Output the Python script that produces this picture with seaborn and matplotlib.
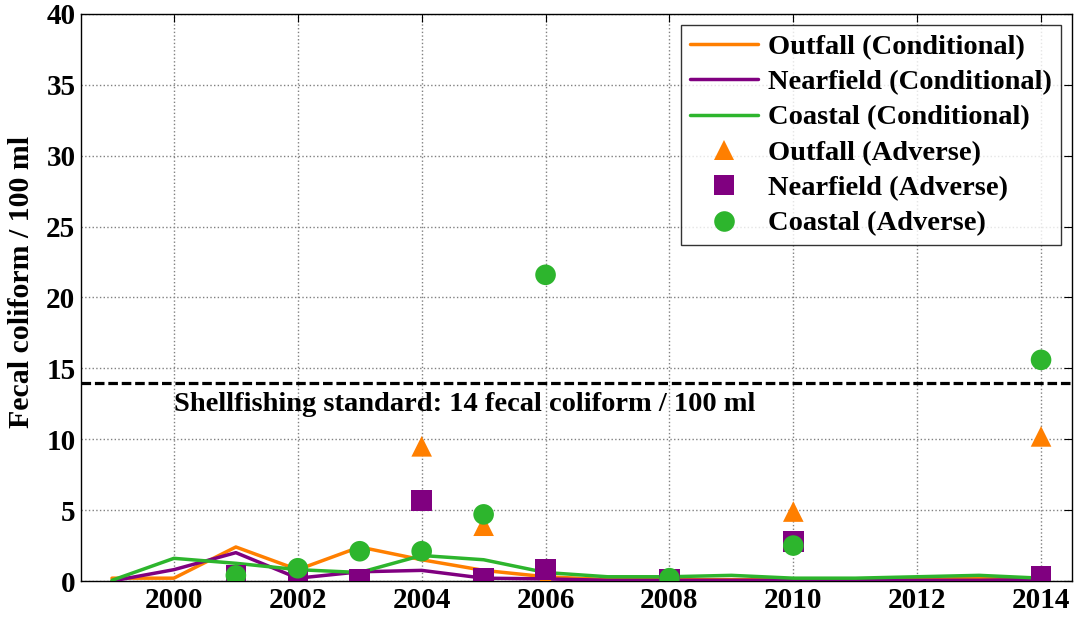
import matplotlib
matplotlib.use("Agg")
from matplotlib import pyplot as plt
import pandas as pd
import numpy as np
import seaborn as sb

# conditional (annual) values
years = [1999, 2000, 2001, 2002, 2003, 2004, 2005, 2006, 2007, 2008, 2009, 2010, 2011, 2012, 2013, 2014]
outfall_cond = [0.2, 0.2, 2.4, 0.8, 2.4, 1.5, 0.75, 0.3, 0.1, 0.1, 0.1, 0.1, 0.1, 0.1, 0.2, 0.2]
nearfield_cond = [0.0, 0.8, 2.0, 0.2, 0.65, 0.75, 0.2, 0.15, 0.05, 0.05, 0.05, 0.05, 0.05, 0.05, 0.05, 0.1]
coastal_cond = [0.05, 1.6, 1.25, 0.8, 0.6, 1.8, 1.5, 0.6, 0.3, 0.3, 0.4, 0.2, 0.2, 0.3, 0.4, 0.2]

# adverse values
adv_years = [2001, 2002, 2003, 2004, 2005, 2006, 2008, 2010, 2014]
outfall_adv = [0.3, 0.1, 0.1, 9.5, 3.9, 0.1, 0.1, 4.9, 10.2]
nearfield_adv = [0.4, 0.1, 0.1, 5.7, 0.2, 0.8, 0.1, 2.8, 0.3]
coastal_adv = [0.4, 0.9, 2.1, 2.1, 4.7, 21.6, 0.2, 2.5, 15.6]

standard = 14

orange = "#FF7F00"
purple = "#800080"
green = "#2DB52D"

cond = pd.DataFrame({
    "Year": years * 3,
    "Value": outfall_cond + nearfield_cond + coastal_cond,
    "Series": ["Outfall (Conditional)"] * 16 + ["Nearfield (Conditional)"] * 16 + ["Coastal (Conditional)"] * 16,
})
adv = pd.DataFrame({
    "Year": adv_years * 3,
    "Value": outfall_adv + nearfield_adv + coastal_adv,
    "Series": ["Outfall (Adverse)"] * 9 + ["Nearfield (Adverse)"] * 9 + ["Coastal (Adverse)"] * 9,
})

sb.set_style("white")
plt.rcParams["font.family"] = "Liberation Serif"
plt.rcParams["font.weight"] = "bold"
plt.rcParams["text.color"] = "black"
plt.rcParams["axes.labelcolor"] = "black"
plt.rcParams["xtick.color"] = "black"
plt.rcParams["ytick.color"] = "black"

fig = plt.figure(figsize=(10.76, 6.21), dpi=100)
ax = fig.add_axes([0.0753, 0.0644, 0.9210, 0.9131])

sb.lineplot(data=cond, x="Year", y="Value", hue="Series",
            palette=[orange, purple, green], linewidth=2.5, ax=ax, zorder=3)
sb.scatterplot(data=adv, x="Year", y="Value", hue="Series", style="Series",
               markers=["^", "s", "o"], palette=[orange, purple, green],
               s=220, linewidth=0, ax=ax, zorder=4)

ax.axhline(standard, color="black", linestyle="--", linewidth=2.3, dashes=(3, 1.2), zorder=2)
ax.text(2000, standard - 0.7, "Shellfishing standard: 14 fecal coliform / 100 ml",
        fontsize=20.5, fontweight="bold", va="top", ha="left", color="black")

ax.set_xlim(1998.5, 2014.5)
ax.set_ylim(0, 40)
ax.set_xticks(range(2000, 2015, 2))
ax.set_yticks(range(0, 41, 5))
ax.tick_params(direction="in", top=True, right=True, labelsize=21, length=6, pad=4,
               colors="black")
for lab in ax.get_xticklabels() + ax.get_yticklabels():
    lab.set_fontweight("bold")
ax.grid(True, color="gray", linestyle=":", linewidth=1)
ax.set_xlabel("")
ax.set_ylabel("Fecal coliform / 100 ml", fontsize=21.5, fontweight="bold", color="black")
ax.yaxis.set_label_coords(-0.046, 0.527)
for sp in ax.spines.values():
    sp.set_color("black")
    sp.set_linewidth(1)

leg = ax.legend(loc="upper right", frameon=True, fancybox=False,
                edgecolor="black", handlelength=2.4, borderpad=0.3, labelspacing=0.33,
                handletextpad=0.35, borderaxespad=0.4,
                prop={"family": "Liberation Serif", "weight": "bold", "size": 20.5})
leg.get_frame().set_linewidth(1)
for t in leg.get_texts():
    t.set_color("black")

plt.savefig("out.png", dpi=100)
plt.close("all")
